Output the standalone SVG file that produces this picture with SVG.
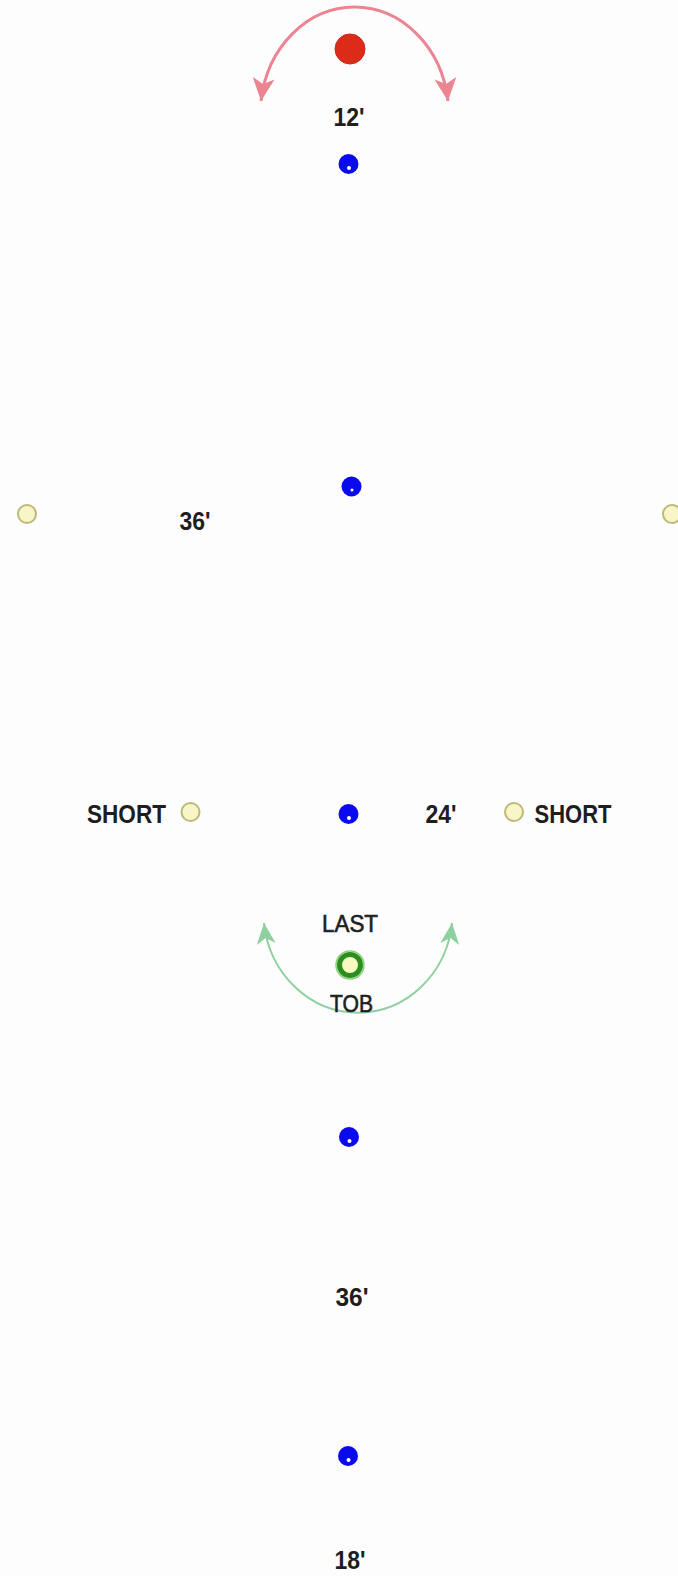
<svg xmlns="http://www.w3.org/2000/svg" width="678" height="1576" viewBox="0 0 678 1576">
<defs>
<style>
.lbl{font-family:"Liberation Sans",Arial,sans-serif;font-weight:bold;font-size:25px;fill:#1e1e1e;text-anchor:middle}
.lbl2{font-family:"Liberation Sans",Arial,sans-serif;font-weight:normal;font-size:23px;fill:#1e1e1e;text-anchor:middle;stroke:#1e1e1e;stroke-width:0.6}
.blue{fill:#0a0aee}
.hole{fill:#ffffff}
.yel{fill:#f8f6c6;stroke:#bdb978;stroke-width:2}
</style>
<marker id="arRed" viewBox="0 0 23 22" refX="23" refY="11" markerWidth="23" markerHeight="22" markerUnits="userSpaceOnUse" orient="auto-start-reverse">
<path d="M0,0 L23,11 L0,22 L6,11 z" fill="#ec8592"/>
</marker>
<marker id="arGreen" viewBox="0 0 21 19" refX="21" refY="9.5" markerWidth="21" markerHeight="19" markerUnits="userSpaceOnUse" orient="auto-start-reverse">
<path d="M0,0 L21,9.5 L0,19 L6,9.5 z" fill="#8fd0a0"/>
</marker>
</defs>
<rect width="678" height="1576" fill="#fdfdfd"/>
<g id="connectors">
<path d="M261,101 A94.3,108 0 0 1 448,101" fill="none" stroke="#ec8592" stroke-width="3" marker-start="url(#arRed)" marker-end="url(#arRed)"/>
<path d="M264,923 A94.6,101 0 0 0 452,923" fill="none" stroke="#8fd0a0" stroke-width="2" marker-start="url(#arGreen)" marker-end="url(#arGreen)"/>
</g>
<g id="ball">
<circle cx="350" cy="49" r="15" fill="#dd2b1a" stroke="#c8281a" stroke-width="1"/>
</g>
<g id="label-12"><text class="lbl" x="349" y="126" textLength="31" lengthAdjust="spacingAndGlyphs">12'</text></g>
<g id="player-top"><circle class="blue" cx="348.5" cy="164" r="10"/><circle class="hole" cx="349" cy="168" r="2"/></g>
<g id="player-mid"><circle class="blue" cx="351.5" cy="486.5" r="10"/><circle class="hole" cx="352" cy="490" r="1.5"/></g>
<g id="cone-left"><circle class="yel" cx="27" cy="514" r="9"/></g>
<g id="cone-right"><circle class="yel" cx="672" cy="514" r="9"/></g>
<g id="label-36-top"><text class="lbl" x="195" y="530" textLength="31" lengthAdjust="spacingAndGlyphs">36'</text></g>
<g id="short-left">
<text class="lbl" x="126.5" y="823" textLength="79" lengthAdjust="spacingAndGlyphs">SHORT</text>
<circle class="yel" cx="190.5" cy="812" r="9"/>
</g>
<g id="player-row"><circle class="blue" cx="348.5" cy="814" r="10"/><circle class="hole" cx="349" cy="818" r="2"/></g>
<g id="label-24"><text class="lbl" x="441" y="823" textLength="31" lengthAdjust="spacingAndGlyphs">24'</text></g>
<g id="short-right">
<circle class="yel" cx="514" cy="812" r="9"/>
<text class="lbl" x="573" y="823" textLength="77" lengthAdjust="spacingAndGlyphs">SHORT</text>
</g>
<g id="last-tob">
<text class="lbl2" x="350" y="932" textLength="56" lengthAdjust="spacingAndGlyphs">LAST</text>
<circle cx="350" cy="965" r="14" fill="none" stroke="#8ccf7c" stroke-width="1.5"/>
<circle cx="350" cy="965" r="10.5" fill="#f8f8c0" stroke="#2a8f1e" stroke-width="5"/>
<text class="lbl2" x="351.5" y="1012" textLength="43" lengthAdjust="spacingAndGlyphs">TOB</text>
</g>
<g id="player-low"><circle class="blue" cx="349" cy="1137" r="10"/><circle class="hole" cx="349.5" cy="1141" r="2"/></g>
<g id="label-36-bottom"><text class="lbl" x="352" y="1306" textLength="33" lengthAdjust="spacingAndGlyphs">36'</text></g>
<g id="player-bottom"><circle class="blue" cx="348" cy="1456" r="10"/><circle class="hole" cx="348.5" cy="1460" r="2"/></g>
<g id="label-18"><text class="lbl" x="350" y="1569" textLength="31" lengthAdjust="spacingAndGlyphs">18'</text></g>
</svg>
